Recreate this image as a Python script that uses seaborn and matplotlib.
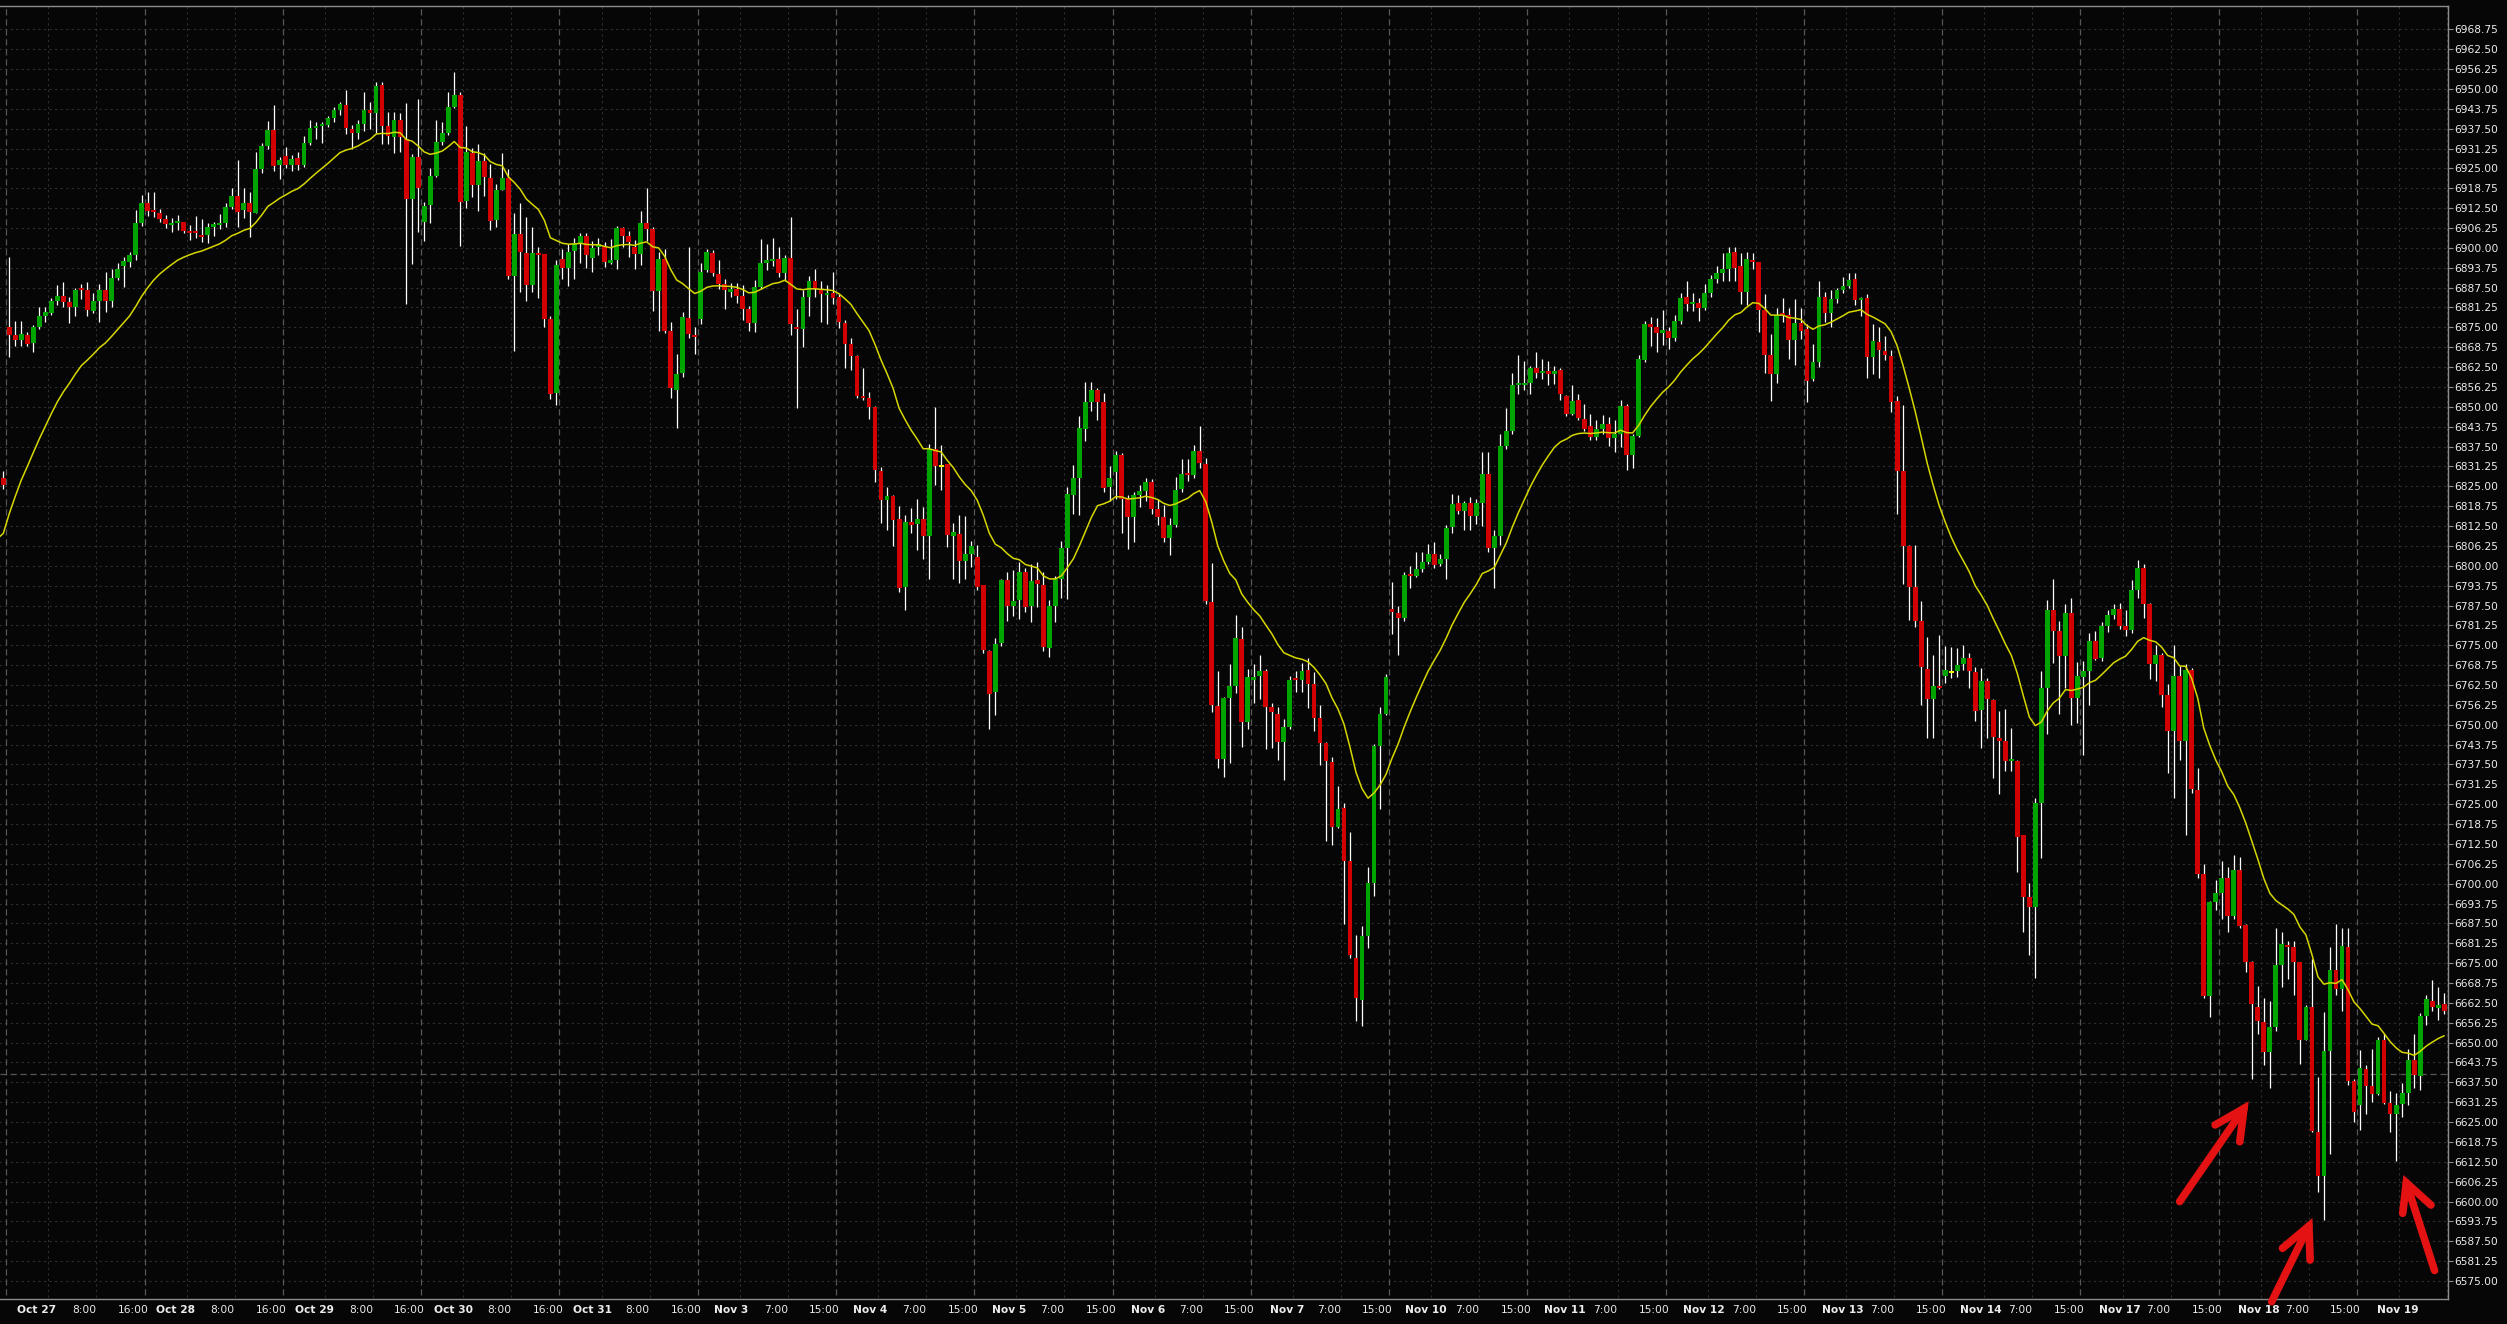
import numpy as np
import pandas as pd
import matplotlib
matplotlib.use("Agg")
import matplotlib.pyplot as plt
import matplotlib.transforms as mtransforms
import seaborn as sns

# hourly bars, Oct 27 - Nov 19 (bar order)
opens = [
    6827.7, 6875.2, 6872.6, 6871.0, 6872.6, 6870.2, 6875.2, 6878.6, 6879.4, 6883.4,
    6884.9, 6883.1, 6881.3, 6887.3, 6886.9, 6880.2, 6883.4, 6886.9, 6883.4, 6890.4,
    6894.3, 6895.7, 6897.8, 6907.7, 6914.0, 6911.9, 6910.9, 6909.0, 6907.2, 6907.9,
    6908.0, 6905.3, 6905.3, 6904.1, 6904.0, 6906.7, 6907.2, 6907.9, 6912.9, 6916.3,
    6911.9, 6914.0, 6911.1, 6924.7, 6932.0, 6937.1, 6926.1, 6928.9, 6926.1, 6928.4,
    6926.1, 6932.9, 6937.6, 6938.3, 6938.6, 6940.7, 6943.4, 6944.9, 6937.3, 6936.2,
    6938.9, 6943.4, 6942.3, 6951.2, 6938.3, 6935.0, 6940.2, 6934.4, 6915.3, 6928.5,
    6908.2, 6913.5, 6922.6, 6933.4, 6936.2, 6944.2, 6948.1, 6914.8, 6929.7, 6919.8,
    6927.3, 6922.0, 6908.9, 6918.2, 6922.0, 6891.3, 6904.3, 6898.4, 6888.4, 6898.4,
    6898.0, 6877.7, 6854.3, 6896.6, 6893.6, 6899.1, 6901.5, 6903.8, 6896.8, 6900.2,
    6900.7, 6895.4, 6896.3, 6906.3, 6903.8, 6900.2, 6898.1, 6907.7, 6905.9, 6886.5,
    6896.6, 6873.8, 6855.4, 6860.6, 6877.9, 6872.7, 6877.7, 6892.9, 6898.4, 6891.8,
    6888.6, 6886.1, 6887.2, 6885.0, 6880.7, 6876.3, 6887.8, 6895.4, 6896.0, 6896.6,
    6892.0, 6896.8, 6875.2, 6874.5, 6884.7, 6889.5, 6887.2, 6885.2, 6885.7, 6884.7,
    6876.3, 6869.7, 6865.9, 6853.4, 6852.7, 6850.0, 6829.8, 6820.6, 6822.0, 6814.8,
    6793.4, 6813.8, 6813.1, 6814.8, 6809.3, 6836.6, 6831.5, 6831.9, 6809.4, 6810.1,
    6801.5, 6803.6, 6802.9, 6793.8, 6773.3, 6760.4, 6775.6, 6795.5, 6787.4, 6789.3,
    6797.9, 6787.4, 6795.5, 6793.8, 6774.0, 6787.4, 6795.8, 6805.7, 6822.2, 6827.5,
    6843.0, 6851.4, 6855.4, 6851.4, 6824.8, 6829.5, 6834.7, 6821.1, 6815.3, 6822.4,
    6823.5, 6826.5, 6817.7, 6815.3, 6808.8, 6812.9, 6824.1, 6829.0, 6828.6, 6836.1,
    6832.0, 6788.6, 6756.0, 6739.2, 6758.3, 6762.1, 6777.0, 6750.8, 6764.2, 6765.4,
    6766.8, 6755.6, 6753.5, 6744.7, 6749.4, 6764.7, 6764.1, 6767.2, 6762.7, 6752.2,
    6744.4, 6738.3, 6717.8, 6723.8, 6707.2, 6676.7, 6663.5, 6683.6, 6700.1, 6743.3,
    6753.5, 6786.3, 6785.2, 6783.5, 6797.5, 6796.9, 6799.0, 6801.3, 6803.6, 6800.6,
    6802.2, 6812.2, 6819.7, 6817.2, 6819.9, 6815.6, 6819.9, 6828.9, 6805.7, 6809.3,
    6837.8, 6842.3, 6856.8, 6856.8, 6857.6, 6862.2, 6860.6, 6861.3, 6860.3, 6861.7,
    6853.3, 6847.7, 6852.2, 6846.2, 6843.9, 6840.4, 6843.1, 6844.6, 6840.1, 6841.3,
    6850.4, 6835.0, 6840.8, 6864.7, 6875.9, 6875.1, 6873.1, 6874.0, 6871.8, 6877.1,
    6884.6, 6882.4, 6882.7, 6881.2, 6885.8, 6890.1, 6892.2, 6893.4, 6898.8, 6894.2,
    6886.1, 6896.2, 6895.6, 6880.5, 6866.3, 6860.3, 6879.4, 6878.9, 6870.9, 6876.3,
    6874.4, 6858.8, 6864.1, 6884.6, 6879.4, 6883.8, 6886.9, 6887.9, 6890.1, 6883.5,
    6884.3, 6865.7, 6870.3, 6867.5, 6866.0, 6851.9, 6829.8, 6806.1, 6793.2, 6782.7,
    6767.6, 6758.0, 6762.3, 6765.4, 6766.6, 6766.9, 6769.1, 6771.1, 6766.5, 6754.5,
    6763.9, 6757.8, 6745.8, 6744.8, 6738.5, 6738.7, 6715.2, 6695.7, 6692.5, 6725.3,
    6761.4, 6786.0, 6779.5, 6771.5, 6785.0, 6758.5, 6765.0, 6766.8, 6776.2, 6771.1,
    6781.2, 6784.5, 6786.3, 6780.9, 6779.9, 6792.5, 6799.3, 6787.9, 6769.1, 6771.9,
    6759.3, 6748.1, 6765.3, 6744.8, 6767.2, 6729.6, 6702.9, 6664.7, 6694.3, 6697.2,
    6701.8, 6689.9, 6704.4, 6687.0, 6675.5, 6661.3, 6656.4, 6646.9, 6655.0, 6674.3,
    6680.5, 6680.1, 6675.2, 6650.9, 6661.3, 6621.8, 6607.9, 6647.3, 6672.9, 6666.8,
    6680.1, 6637.9, 6630.4, 6641.6, 6636.2, 6633.9, 6650.7, 6631.0, 6627.5, 6630.7,
    6634.3, 6644.4, 6639.4, 6658.5, 6663.2, 6661.0, 6662.2,
]
highs = [
    6829.8, 6897.2, 6877.0, 6877.0, 6873.6, 6875.7, 6881.3, 6881.3, 6884.1, 6888.3,
    6889.4, 6884.4, 6887.3, 6888.6, 6889.4, 6885.7, 6888.6, 6892.5, 6893.5, 6895.4,
    6897.2, 6898.8, 6911.9, 6916.6, 6917.7, 6917.7, 6912.1, 6910.3, 6909.3, 6910.3,
    6908.2, 6907.2, 6910.0, 6909.0, 6907.9, 6908.2, 6910.6, 6914.0, 6918.7, 6927.8,
    6918.7, 6917.7, 6930.2, 6933.1, 6939.9, 6944.9, 6928.7, 6931.6, 6929.2, 6930.2,
    6935.2, 6940.2, 6939.7, 6939.7, 6941.5, 6944.4, 6946.0, 6949.7, 6938.6, 6940.2,
    6948.9, 6946.0, 6952.1, 6952.1, 6942.8, 6942.8, 6942.3, 6945.5, 6929.4, 6946.7,
    6914.5, 6925.0, 6940.2, 6939.7, 6948.9, 6955.2, 6949.1, 6938.3, 6931.3, 6932.7,
    6929.7, 6926.4, 6920.2, 6929.8, 6924.7, 6911.1, 6914.1, 6909.7, 6906.6, 6900.4,
    6898.0, 6878.6, 6896.3, 6899.7, 6901.1, 6903.2, 6904.8, 6904.8, 6902.1, 6903.2,
    6901.8, 6902.9, 6906.8, 6906.6, 6905.2, 6902.5, 6911.6, 6918.9, 6906.6, 6898.8,
    6899.7, 6876.6, 6866.6, 6879.9, 6900.2, 6875.2, 6895.3, 6899.5, 6899.3, 6896.3,
    6890.2, 6888.8, 6889.1, 6888.2, 6881.6, 6889.8, 6902.7, 6901.1, 6903.2, 6900.4,
    6897.7, 6909.7, 6880.7, 6886.8, 6891.2, 6893.2, 6889.5, 6888.2, 6892.5, 6885.4,
    6877.2, 6871.8, 6866.3, 6862.2, 6854.8, 6850.3, 6831.1, 6824.7, 6822.3, 6818.8,
    6815.9, 6818.2, 6821.0, 6818.6, 6838.4, 6850.0, 6837.9, 6832.1, 6813.4, 6815.9,
    6815.6, 6807.9, 6806.6, 6794.0, 6773.5, 6777.4, 6795.8, 6798.1, 6798.6, 6801.3,
    6799.2, 6800.6, 6801.3, 6797.9, 6789.3, 6796.9, 6807.7, 6824.9, 6831.7, 6847.0,
    6857.9, 6857.9, 6855.9, 6854.5, 6831.3, 6836.1, 6835.4, 6822.4, 6823.1, 6825.4,
    6827.6, 6827.2, 6821.1, 6819.0, 6814.9, 6827.9, 6833.6, 6833.6, 6838.1, 6844.0,
    6834.0, 6800.9, 6766.8, 6758.6, 6769.2, 6784.5, 6780.8, 6767.6, 6769.2, 6772.0,
    6767.6, 6756.9, 6755.6, 6751.7, 6765.4, 6766.8, 6769.5, 6771.0, 6766.5, 6756.3,
    6744.6, 6739.9, 6730.8, 6725.3, 6716.3, 6684.0, 6686.7, 6705.1, 6744.0, 6755.6,
    6765.8, 6794.9, 6787.2, 6797.9, 6799.9, 6804.3, 6804.4, 6806.7, 6807.4, 6803.6,
    6812.9, 6822.7, 6822.2, 6820.4, 6821.5, 6821.0, 6835.8, 6835.8, 6811.4, 6841.5,
    6849.5, 6860.6, 6866.3, 6864.5, 6862.9, 6867.2, 6865.2, 6864.5, 6862.9, 6862.2,
    6853.8, 6856.8, 6854.1, 6851.0, 6847.7, 6845.8, 6847.4, 6846.9, 6845.8, 6852.0,
    6851.0, 6841.6, 6866.3, 6876.9, 6878.2, 6877.9, 6880.5, 6875.1, 6878.9, 6885.8,
    6889.6, 6885.8, 6884.3, 6888.5, 6891.6, 6894.2, 6898.3, 6900.3, 6900.3, 6898.3,
    6898.8, 6898.3, 6895.7, 6885.5, 6872.8, 6881.2, 6884.3, 6881.2, 6883.9, 6881.2,
    6875.9, 6869.8, 6889.6, 6886.1, 6886.6, 6887.3, 6890.7, 6892.2, 6892.2, 6884.6,
    6885.5, 6875.9, 6875.1, 6872.4, 6867.8, 6853.5, 6850.7, 6806.5, 6806.5, 6789.0,
    6777.5, 6771.8, 6778.3, 6774.8, 6774.5, 6774.2, 6775.1, 6772.5, 6768.2, 6767.9,
    6764.7, 6758.1, 6754.2, 6754.9, 6748.9, 6738.9, 6715.4, 6700.3, 6726.8, 6766.8,
    6789.3, 6795.7, 6782.7, 6787.9, 6789.9, 6769.7, 6770.1, 6778.8, 6779.5, 6782.4,
    6786.0, 6788.1, 6788.4, 6786.0, 6795.4, 6801.9, 6800.4, 6788.2, 6775.1, 6772.5,
    6762.9, 6775.1, 6768.6, 6769.1, 6767.9, 6736.4, 6706.1, 6694.6, 6701.2, 6707.0,
    6705.1, 6709.0, 6708.4, 6687.2, 6675.7, 6667.8, 6663.9, 6663.2, 6685.9, 6684.9,
    6682.0, 6682.0, 6675.4, 6661.8, 6676.2, 6639.1, 6659.6, 6680.1, 6687.3, 6685.9,
    6685.9, 6638.7, 6647.8, 6643.0, 6648.1, 6651.7, 6652.7, 6634.8, 6634.3, 6637.2,
    6648.1, 6652.7, 6659.3, 6665.1, 6669.7, 6667.6, 6665.6,
]
lows = [
    6824.1, 6865.8, 6869.1, 6869.1, 6869.1, 6867.3, 6874.4, 6876.8, 6878.9, 6882.0,
    6881.5, 6876.5, 6878.6, 6883.8, 6878.6, 6879.4, 6876.8, 6879.9, 6881.3, 6889.9,
    6887.8, 6893.9, 6896.2, 6906.9, 6910.0, 6909.8, 6908.2, 6906.1, 6905.1, 6905.6,
    6904.8, 6902.5, 6903.0, 6901.9, 6901.6, 6903.7, 6905.8, 6906.7, 6912.1, 6906.7,
    6909.3, 6903.3, 6910.9, 6923.7, 6931.0, 6924.3, 6921.6, 6925.0, 6924.3, 6924.5,
    6925.5, 6932.3, 6934.1, 6933.1, 6938.1, 6939.7, 6941.8, 6935.8, 6931.0, 6934.4,
    6936.9, 6937.3, 6936.2, 6932.7, 6932.7, 6929.9, 6930.2, 6882.3, 6894.8, 6905.1,
    6902.3, 6907.9, 6922.4, 6932.3, 6935.5, 6943.9, 6900.6, 6912.4, 6916.1, 6911.7,
    6916.3, 6905.6, 6906.6, 6918.2, 6890.2, 6867.7, 6886.1, 6883.4, 6886.1, 6884.3,
    6875.2, 6852.4, 6850.6, 6890.2, 6887.9, 6890.2, 6895.3, 6893.6, 6892.5, 6897.7,
    6893.9, 6895.0, 6893.2, 6900.4, 6897.0, 6893.2, 6894.7, 6902.1, 6880.0, 6873.8,
    6873.2, 6852.7, 6843.4, 6859.5, 6871.8, 6866.6, 6876.2, 6892.3, 6891.3, 6887.1,
    6880.9, 6884.7, 6882.7, 6877.2, 6873.8, 6873.4, 6887.1, 6892.9, 6894.3, 6890.9,
    6889.5, 6872.5, 6849.5, 6868.8, 6878.6, 6884.7, 6876.6, 6875.9, 6882.4, 6874.9,
    6862.2, 6861.5, 6852.9, 6852.0, 6846.1, 6826.5, 6813.4, 6811.1, 6806.3, 6791.6,
    6786.1, 6810.4, 6804.9, 6802.2, 6795.7, 6825.4, 6823.8, 6806.0, 6795.7, 6794.7,
    6795.7, 6799.5, 6792.4, 6772.6, 6748.5, 6752.9, 6774.9, 6782.6, 6784.2, 6783.2,
    6785.6, 6782.2, 6787.0, 6773.3, 6771.3, 6782.2, 6790.0, 6789.7, 6816.3, 6815.9,
    6839.1, 6848.6, 6845.9, 6823.1, 6820.4, 6821.1, 6810.4, 6805.4, 6807.4, 6818.6,
    6820.4, 6816.3, 6812.9, 6807.4, 6803.3, 6812.2, 6823.1, 6826.8, 6827.6, 6830.6,
    6788.0, 6754.0, 6736.5, 6733.5, 6737.8, 6759.9, 6742.9, 6748.8, 6756.9, 6758.0,
    6742.4, 6742.6, 6738.9, 6732.7, 6748.8, 6760.4, 6760.4, 6755.3, 6748.1, 6737.2,
    6713.3, 6712.2, 6717.4, 6687.4, 6676.5, 6656.7, 6655.3, 6679.9, 6696.2, 6723.5,
    6753.1, 6778.5, 6771.9, 6782.6, 6793.1, 6796.5, 6797.9, 6800.6, 6799.2, 6799.9,
    6795.8, 6810.4, 6816.3, 6811.1, 6811.1, 6813.1, 6812.6, 6804.2, 6793.1, 6806.5,
    6836.7, 6841.6, 6854.1, 6855.3, 6854.1, 6859.1, 6858.7, 6856.8, 6857.1, 6852.3,
    6847.2, 6847.4, 6845.9, 6842.3, 6839.7, 6839.7, 6841.6, 6837.8, 6835.9, 6837.5,
    6830.1, 6830.9, 6840.4, 6864.1, 6869.0, 6867.2, 6869.3, 6868.3, 6870.6, 6876.2,
    6880.0, 6880.0, 6876.9, 6880.5, 6884.6, 6888.8, 6889.6, 6889.6, 6889.6, 6882.4,
    6882.0, 6893.4, 6873.6, 6860.6, 6851.9, 6857.6, 6876.6, 6865.2, 6863.2, 6871.3,
    6851.5, 6858.1, 6862.6, 6876.6, 6875.1, 6882.7, 6885.8, 6887.3, 6882.0, 6878.5,
    6859.1, 6860.2, 6859.1, 6864.8, 6848.4, 6816.4, 6794.3, 6782.9, 6780.6, 6756.2,
    6745.8, 6745.8, 6761.1, 6763.1, 6764.6, 6765.0, 6767.2, 6761.4, 6751.3, 6742.7,
    6745.9, 6733.2, 6728.2, 6735.4, 6735.4, 6703.7, 6684.9, 6677.7, 6670.4, 6708.0,
    6747.0, 6769.4, 6753.5, 6761.4, 6749.9, 6750.6, 6740.5, 6756.1, 6770.4, 6770.1,
    6779.2, 6783.1, 6780.2, 6778.0, 6778.8, 6789.9, 6783.5, 6764.3, 6763.9, 6755.6,
    6734.7, 6726.8, 6739.0, 6715.2, 6728.6, 6701.8, 6663.9, 6658.2, 6691.7, 6688.8,
    6684.9, 6688.8, 6685.9, 6672.3, 6638.4, 6652.7, 6643.0, 6635.8, 6653.8, 6667.6,
    6670.0, 6665.1, 6643.4, 6650.7, 6621.8, 6603.0, 6594.3, 6614.8, 6665.1, 6659.9,
    6636.8, 6624.9, 6622.4, 6627.5, 6631.4, 6633.6, 6630.7, 6621.8, 6612.7, 6626.7,
    6630.4, 6635.8, 6635.1, 6655.6, 6659.9, 6657.0, 6658.9,
]
closes = [
    6825.4, 6872.6, 6871.0, 6872.9, 6869.7, 6875.2, 6878.6, 6879.9, 6883.4, 6884.9,
    6883.1, 6881.5, 6886.9, 6886.7, 6880.4, 6883.4, 6886.9, 6883.4, 6890.4, 6893.5,
    6895.9, 6897.8, 6907.7, 6914.0, 6911.7, 6911.4, 6909.1, 6907.5, 6907.7, 6908.4,
    6905.4, 6904.8, 6904.6, 6903.5, 6906.7, 6907.5, 6907.9, 6912.9, 6916.3, 6911.4,
    6914.0, 6911.4, 6924.7, 6932.0, 6937.1, 6925.7, 6927.6, 6926.1, 6927.9, 6926.1,
    6932.9, 6937.6, 6938.3, 6938.9, 6940.7, 6943.4, 6945.3, 6937.8, 6936.2, 6938.9,
    6943.4, 6942.3, 6950.9, 6938.3, 6935.2, 6940.2, 6934.8, 6915.3, 6928.5, 6918.7,
    6913.2, 6922.6, 6933.4, 6936.2, 6944.2, 6948.1, 6914.5, 6930.1, 6919.8, 6927.3,
    6922.4, 6908.6, 6918.2, 6922.0, 6891.3, 6904.3, 6898.8, 6888.2, 6898.4, 6897.7,
    6877.7, 6854.0, 6894.6, 6893.6, 6898.7, 6901.5, 6903.8, 6897.7, 6900.0, 6901.1,
    6895.7, 6896.3, 6906.3, 6903.8, 6901.8, 6898.1, 6907.7, 6905.9, 6886.5, 6896.6,
    6873.8, 6855.8, 6860.2, 6878.2, 6872.9, 6872.1, 6892.5, 6898.7, 6892.0, 6888.6,
    6886.8, 6887.2, 6885.0, 6880.9, 6876.3, 6887.8, 6895.3, 6896.1, 6896.6, 6892.0,
    6896.8, 6876.2, 6874.5, 6884.7, 6889.5, 6887.2, 6885.4, 6885.7, 6884.3, 6876.6,
    6869.7, 6865.9, 6853.4, 6852.7, 6850.0, 6830.2, 6820.6, 6822.0, 6814.5, 6792.9,
    6813.8, 6812.9, 6814.8, 6809.3, 6836.6, 6831.5, 6831.5, 6809.7, 6810.7, 6801.5,
    6803.6, 6806.3, 6793.4, 6773.6, 6759.7, 6775.4, 6795.5, 6787.2, 6789.0, 6797.9,
    6787.0, 6795.2, 6794.2, 6774.3, 6787.4, 6795.8, 6805.7, 6822.7, 6827.5, 6843.2,
    6851.4, 6855.4, 6851.4, 6824.5, 6827.6, 6834.7, 6821.1, 6815.3, 6822.2, 6823.5,
    6826.3, 6817.9, 6815.3, 6808.8, 6812.9, 6823.8, 6828.8, 6828.6, 6836.1, 6832.2,
    6789.0, 6756.3, 6739.2, 6758.3, 6762.1, 6777.4, 6750.8, 6764.9, 6765.1, 6766.8,
    6755.6, 6753.9, 6744.7, 6749.4, 6764.2, 6764.1, 6766.8, 6762.7, 6752.2, 6744.4,
    6738.5, 6717.8, 6723.5, 6707.2, 6677.4, 6663.9, 6683.6, 6700.1, 6743.3, 6753.5,
    6765.1, 6785.3, 6783.5, 6797.2, 6796.9, 6799.0, 6801.3, 6803.6, 6800.3, 6802.2,
    6811.8, 6819.3, 6817.2, 6819.7, 6815.6, 6819.9, 6828.9, 6805.7, 6809.3, 6837.8,
    6842.3, 6856.8, 6857.4, 6857.4, 6862.2, 6860.6, 6861.3, 6860.3, 6861.4, 6854.1,
    6847.7, 6851.9, 6846.5, 6843.1, 6840.4, 6843.1, 6844.6, 6840.1, 6841.3, 6850.4,
    6835.0, 6840.8, 6865.2, 6875.9, 6875.1, 6873.3, 6874.1, 6871.6, 6877.1, 6884.3,
    6882.3, 6883.1, 6881.2, 6885.8, 6890.1, 6892.2, 6893.4, 6898.3, 6893.7, 6886.1,
    6896.5, 6895.6, 6880.5, 6866.3, 6860.3, 6878.9, 6878.8, 6870.9, 6876.3, 6873.9,
    6858.1, 6864.1, 6884.6, 6879.4, 6883.8, 6886.6, 6887.9, 6889.9, 6883.5, 6884.3,
    6865.7, 6870.6, 6867.8, 6866.3, 6851.5, 6829.8, 6806.1, 6793.2, 6782.7, 6768.1,
    6758.0, 6762.3, 6761.5, 6767.2, 6766.6, 6768.7, 6771.1, 6766.8, 6754.2, 6763.9,
    6758.1, 6746.2, 6744.8, 6738.6, 6739.3, 6714.8, 6695.7, 6692.5, 6725.3, 6761.4,
    6786.0, 6779.5, 6771.5, 6785.0, 6758.5, 6765.3, 6766.8, 6776.2, 6770.8, 6781.2,
    6784.5, 6786.3, 6781.2, 6779.9, 6792.5, 6799.3, 6787.9, 6769.1, 6771.8, 6759.3,
    6748.1, 6765.3, 6744.8, 6767.2, 6729.9, 6702.9, 6664.7, 6694.3, 6697.2, 6701.8,
    6689.9, 6704.4, 6686.7, 6675.5, 6662.2, 6656.7, 6646.9, 6655.0, 6674.3, 6681.0,
    6680.1, 6675.2, 6650.9, 6661.3, 6622.1, 6607.9, 6647.3, 6672.9, 6666.8, 6680.5,
    6637.9, 6628.1, 6642.0, 6636.2, 6633.9, 6650.7, 6631.0, 6627.5, 6630.4, 6634.3,
    6644.4, 6639.7, 6658.5, 6663.6, 6661.3, 6661.8, 6659.9,
]

ma_seed = 6808.5      # moving average carried in from the bar before the window
ref_level = 6640.0    # dashed horizontal reference line

dates = ["Oct 27", "Oct 28", "Oct 29", "Oct 30", "Oct 31",
         "Nov 3", "Nov 4", "Nov 5", "Nov 6", "Nov 7",
         "Nov 10", "Nov 11", "Nov 12", "Nov 13", "Nov 14",
         "Nov 17", "Nov 18", "Nov 19"]
times_oct = ["8:00", "16:00"]
times_nov = ["7:00", "15:00"]

# hand-drawn red arrows: tail, tip, head end 1, head end 2 (bar, price)
arrows = [
    ((362.0, 6600.0), (372.7, 6629.3), (367.9, 6624.1), (372.0, 6618.8)),
    ((377.3, 6568.5), (383.5, 6592.3), (379.1, 6585.3), (383.7, 6581.6)),
    ((404.4, 6578.3), (399.7, 6605.9), (399.1, 6596.3), (403.8, 6598.9)),
]

BG = "#060606"
UP = "#00a400"
DOWN = "#d20000"
DOJI = "#f0f000"
MA_COL = "#d6d600"
GRID = "#2f2f2f"
MAJOR = "#565656"
SPINE = "#8c8c8c"
TXT = "#ececec"
ARROW = "#e41212"

df = pd.DataFrame({"open": opens, "high": highs, "low": lows, "close": closes})
df["bar"] = np.arange(len(df))
n = len(df)

# 19-period EMA of the closes
ma = pd.Series([ma_seed] + closes).ewm(span=19, adjust=False).mean()
ma_df = pd.DataFrame({"bar": np.arange(-1, n), "ma": ma.values})

sns.set_theme(style="dark")
plt.rcParams["font.family"] = ["DejaVu Sans"]

W, H = 2507, 1324
fig = plt.figure(figsize=(W / 100, H / 100), dpi=100, facecolor=BG)
ax = fig.add_axes([0, 25 / H, 2447.5 / W, 1293 / H])
ax.set_facecolor(BG)
ax.grid(False)

ax.set_xlim(-0.55, n - 0.45)
ax.set_ylim(6569.34, 6976.09)

# grid lines
yt = np.arange(6575, 6968.76, 6.25)
ax.hlines(yt, -1, n, colors=GRID, linestyles=(0, (2, 3)), lw=0.8, zorder=1)
days = np.arange(len(dates))
minor = np.concatenate([7.5 + 23 * days, 15.5 + 23 * days])
ax.vlines(minor, 6500, 7000, colors=GRID, linestyles=(0, (2, 3)), lw=0.8, zorder=1)
ax.vlines(0.5 + 23 * days, 6500, 7000, colors=MAJOR, linestyles=(0, (5, 3)), lw=0.9, zorder=1)
ax.axhline(ref_level, color=MAJOR, ls=(0, (5, 3)), lw=0.9, zorder=1)

# candles
ax.vlines(df["bar"], df["low"], df["high"], colors="white", lw=0.9, zorder=3)
body_lo = np.minimum(df["open"], df["close"])
body_h = (df["close"] - df["open"]).abs()
mid = body_lo + body_h / 2
body_h = body_h.clip(lower=0.6)
colors = np.where(df["close"] > df["open"], UP, np.where(df["close"] < df["open"], DOWN, DOJI))
ax.bar(df["bar"], body_h, bottom=mid - body_h / 2, width=0.8, color=colors,
       linewidth=0, zorder=4)

# moving average
sns.lineplot(data=ma_df, x="bar", y="ma", ax=ax, color=MA_COL, lw=1.1,
             estimator=None, zorder=5)
ax.set_xlabel("")
ax.set_ylabel("")

# arrows
for tail, tip, h1, h2 in arrows:
    ax.plot([tail[0], tip[0]], [tail[1], tip[1]], color=ARROW, lw=5.5,
            solid_capstyle="round", clip_on=False, zorder=7)
    ax.plot([h1[0], tip[0], h2[0]], [h1[1], tip[1], h2[1]], color=ARROW, lw=5.5,
            solid_capstyle="round", solid_joinstyle="miter", clip_on=False, zorder=7)

# axes, ticks
ax.set_yticks(yt)
ax.set_yticklabels([f"{v:.2f}" for v in yt])
ax.yaxis.tick_right()
ax.tick_params(axis="y", right=True, left=False, length=3.5, width=0.8, color=SPINE,
               labelcolor=TXT, labelsize=7.7, pad=1.5)
ax.tick_params(axis="x", bottom=False, labelbottom=False)
ax.spines["left"].set_visible(False)
for s in ["right", "top", "bottom"]:
    ax.spines[s].set_visible(True)
    ax.spines[s].set_color(SPINE)
    ax.spines[s].set_linewidth(1.0)

# time axis labels
trans = mtransforms.blended_transform_factory(ax.transData, ax.transAxes)
label_y = -11 / 1293
for k, d in enumerate(dates):
    ax.text(5.6 + 23.1 * k, label_y, d, transform=trans, ha="center", va="center",
            color=TXT, fontsize=7.7, fontweight="bold", clip_on=False)
    if k < len(dates) - 1:
        t1, t2 = times_oct if d.startswith("Oct") else times_nov
        ax.text(13.5 + 23 * k, label_y, t1, transform=trans, ha="center", va="center",
                color=TXT, fontsize=7.7, clip_on=False)
        ax.text(21.6 + 23 * k, label_y, t2, transform=trans, ha="center", va="center",
                color=TXT, fontsize=7.7, clip_on=False)

fig.savefig("out.png", dpi=100, facecolor=BG)
